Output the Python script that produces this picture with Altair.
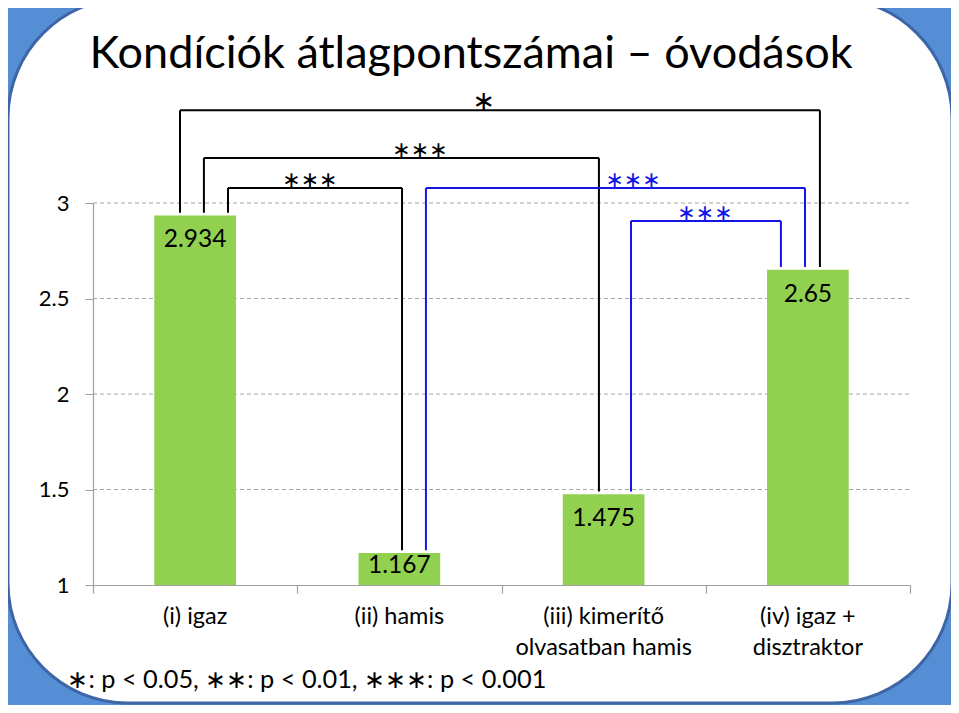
import altair as alt
import pandas as pd

# ---- data ----
categories = ["(i) igaz", "(ii) hamis", "(iii) kimerítő\nolvasatban hamis", "(iv) igaz +\ndisztraktor"]
values = [2.934, 1.167, 1.475, 2.65]
value_labels = ["2.934", "1.167", "1.475", "2.65"]
y_ticks = [1, 1.5, 2, 2.5, 3]

# significance brackets (category index of each end, x/y positions in data units)
br_left_cat = [0, 0, 0, 1, 2]
br_right_cat = [3, 2, 1, 3, 3]
br_left_x = [0.426, 0.543, 0.661, 1.630, 2.634]
br_right_x = [3.559, 2.477, 1.513, 3.486, 3.368]
br_top = [3.485, 3.236, 3.079, 3.079, 2.906]
br_label = ["∗", "∗∗∗", "∗∗∗", "∗∗∗", "∗∗∗"]
br_label_x = [1.914, 1.601, 1.062, 2.644, 2.996]
br_label_size = [27, 22, 22, 22, 22]
br_color = ["#000000", "#000000", "#000000", "#1414E6", "#1414E6"]

footnote = "∗: p < 0.05, ∗∗: p < 0.01, ∗∗∗: p < 0.001"
title_text = "Kondíciók átlagpontszámai – óvodások"

# ---- tables ----
bars = pd.DataFrame({
    "cat": categories,
    "x": [i + 0.3 for i in range(4)],
    "x2": [i + 0.7 for i in range(4)],
    "xc": [i + 0.5 for i in range(4)],
    "v": values,
    "base": [1.0] * 4,
    "lab": value_labels,
})

gap = 0.015
seg_rows = []
for lc, rc, lx, rx, ty, col in zip(br_left_cat, br_right_cat, br_left_x, br_right_x, br_top, br_color):
    seg_rows.append({"x": lx, "x2": rx, "y": ty, "y2": ty, "c": col})
    seg_rows.append({"x": lx, "x2": lx, "y": values[lc] + gap, "y2": ty, "c": col})
    seg_rows.append({"x": rx, "x2": rx, "y": values[rc] + gap, "y2": ty, "c": col})
segs = pd.DataFrame(seg_rows)

stars = pd.DataFrame({"x": br_label_x, "y": br_top, "t": br_label, "c": br_color, "s": br_label_size})

cat_df = pd.DataFrame({"xc": [i + 0.5 for i in range(4)], "y": [0.835] * 4, "t": categories})
foot_df = pd.DataFrame({"x": [-0.125], "y": [0.503], "t": [footnote]})
grid_df = pd.DataFrame({"y": y_ticks[1:], "x": [0] * 4, "x2": [4] * 4})

FONT = "Lato"
xs = alt.Scale(domain=[0, 4], nice=False, zero=False)
ys = alt.Scale(domain=[1, 3], nice=False, zero=False)
x_axis = alt.Axis(values=[0, 1, 2, 3, 4], labels=False, title=None, grid=False, zindex=2,
                  tickSize=8, tickColor="#A0A0A0", domainColor="#A0A0A0", tickWidth=1.2, domainWidth=1.2)
y_axis = alt.Axis(values=y_ticks, format="~g", title=None, grid=False, zindex=2,
                  tickSize=8, tickColor="#A0A0A0", domainColor="#A0A0A0", domainWidth=1.2,
                  labelFontSize=22, labelFont=FONT, labelColor="#000000", labelPadding=16)


def X(f):
    return alt.X(f, type="quantitative", scale=xs, axis=x_axis)


def Y(f):
    return alt.Y(f, type="quantitative", scale=ys, axis=y_axis)


frame = alt.Chart(pd.DataFrame({"a": [0]})).mark_rect(
    fill="white", stroke="#3E66A6", strokeWidth=3, cornerRadius=120
).encode(x=alt.value(-85), x2=alt.value(859), y=alt.value(-205), y2=alt.value(500))

grid_layer = alt.Chart(grid_df).mark_rule(color="#A6A6A6", strokeWidth=1, strokeDash=[4, 3]).encode(
    x=X("x"), x2="x2", y=Y("y")
)

bar_layer = alt.Chart(bars).mark_rect(color="#92D050").encode(
    x=X("x"), x2="x2", y=Y("v"), y2="base"
)

val_layer = alt.Chart(bars).transform_calculate(
    ly="max(datum.v - 0.13, (datum.v + 1) / 2 + 0.015)"
).mark_text(font=FONT, fontSize=24.5, baseline="middle", color="black").encode(
    x=X("xc"), y=Y("ly"), text="lab:N"
)

rule_layer = alt.Chart(segs).mark_rule(strokeWidth=2).encode(
    x=X("x"), x2="x2", y=Y("y"), y2="y2", color=alt.Color("c:N", scale=None)
)

star_layer = alt.Chart(stars).mark_text(font="DejaVu Sans", baseline="middle", dy=-8).encode(
    x=X("x"), y=Y("y"), text="t:N", color=alt.Color("c:N", scale=None),
    size=alt.Size("s:Q", scale=None)
)

cat_layer = alt.Chart(cat_df).mark_text(font=FONT, fontSize=23.5, baseline="middle", lineBreak="\n",
                                        lineHeight=31, color="black").encode(
    x=X("xc"), y=Y("y"), text="t:N"
)

foot_layer = alt.Chart(foot_df).mark_text(font=FONT, fontSize=25.3, baseline="middle", align="left",
                                          color="black").encode(
    x=X("x"), y=Y("y"), text="t:N"
)

chart = alt.layer(frame, grid_layer, bar_layer, val_layer, rule_layer, star_layer, cat_layer, foot_layer).properties(
    width=817, height=382,
    autosize=alt.AutoSizeParams(type="none"),
    padding={"left": 85, "top": 195, "right": 41, "bottom": 120},
    background="#558ED5",
    title=alt.TitleParams(title_text, anchor="start", fontSize=45, font=FONT, fontWeight="normal",
                          color="black", offset=-80, dx=83),
).configure_view(stroke=None)

chart.save("out.html", embed_options={"renderer": "svg", "actions": False})
